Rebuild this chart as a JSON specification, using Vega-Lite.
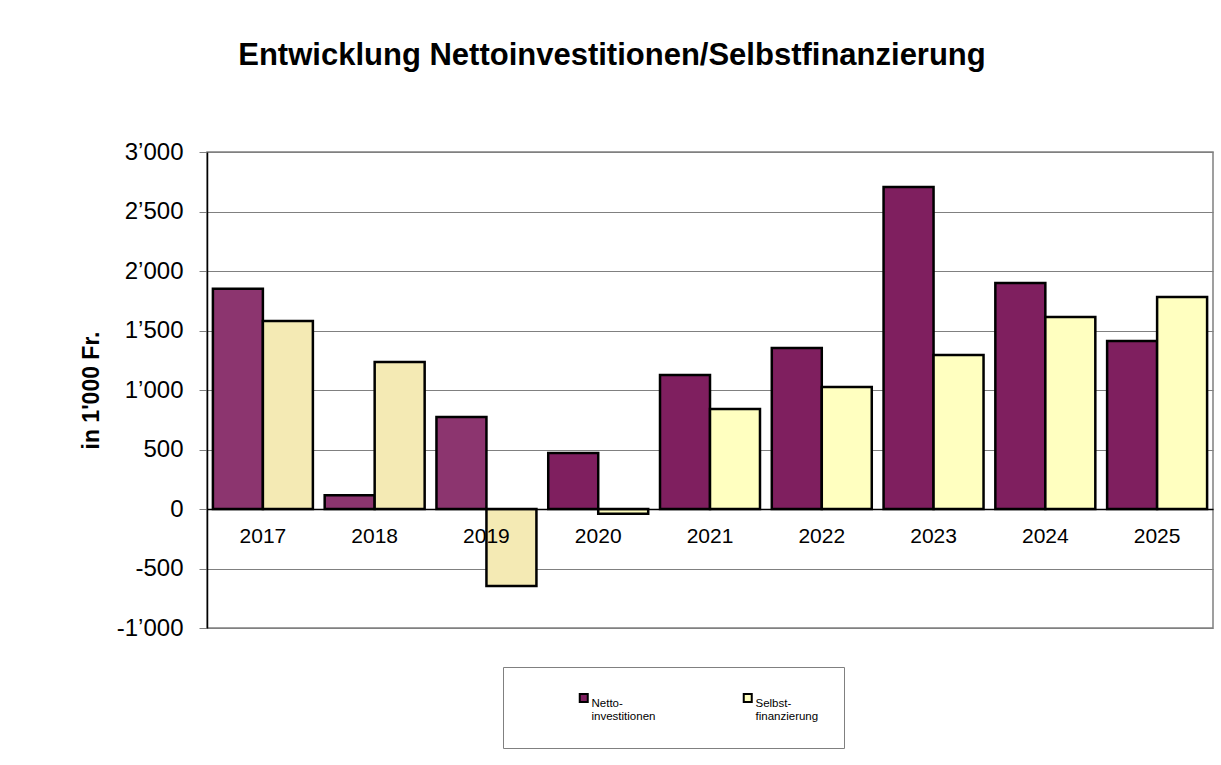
{
  "$schema": "https://vega.github.io/schema/vega-lite/v6.json",
  "width": 1006,
  "height": 476,
  "autosize": {"type": "none"},
  "padding": {"left": 207, "top": 152, "right": 8, "bottom": 137},
  "background": "white",
  "config": {
    "font": "Liberation Sans",
    "view": {"stroke": "#808080", "strokeWidth": 1.5}
  },
  "title": {
    "text": "Entwicklung Nettoinvestitionen/Selbstfinanzierung",
    "fontSize": 31,
    "fontWeight": "bold",
    "color": "black",
    "anchor": "middle",
    "frame": "group",
    "dx": -98,
    "offset": 68
  },
  "data": {
    "values": [
      {"year": "2017", "series": "Nettoinvestitionen", "value": 1850},
      {"year": "2017", "series": "Selbstfinanzierung", "value": 1580},
      {"year": "2018", "series": "Nettoinvestitionen", "value": 115},
      {"year": "2018", "series": "Selbstfinanzierung", "value": 1235},
      {"year": "2019", "series": "Nettoinvestitionen", "value": 773},
      {"year": "2019", "series": "Selbstfinanzierung", "value": -647},
      {"year": "2020", "series": "Nettoinvestitionen", "value": 470},
      {"year": "2020", "series": "Selbstfinanzierung", "value": -40},
      {"year": "2021", "series": "Nettoinvestitionen", "value": 1126},
      {"year": "2021", "series": "Selbstfinanzierung", "value": 840},
      {"year": "2022", "series": "Nettoinvestitionen", "value": 1353},
      {"year": "2022", "series": "Selbstfinanzierung", "value": 1025},
      {"year": "2023", "series": "Nettoinvestitionen", "value": 2706},
      {"year": "2023", "series": "Selbstfinanzierung", "value": 1294},
      {"year": "2024", "series": "Nettoinvestitionen", "value": 1899},
      {"year": "2024", "series": "Selbstfinanzierung", "value": 1613},
      {"year": "2025", "series": "Nettoinvestitionen", "value": 1412},
      {"year": "2025", "series": "Selbstfinanzierung", "value": 1782}
    ]
  },
  "mark": {"type": "bar", "stroke": "black", "strokeWidth": 2.5},
  "encoding": {
    "x": {
      "field": "year", "type": "nominal",
      "scale": {"paddingInner": 0, "paddingOuter": 0},
      "axis": {
        "title": null, "labelAngle": 0, "labelFontSize": 21, "labelColor": "black",
        "labelPadding": 16, "ticks": false, "domain": true, "domainColor": "black",
        "domainWidth": 1.5, "offset": -119, "grid": false, "zindex": 1
      }
    },
    "xOffset": {"field": "series", "scale": {"paddingOuter": 0.118, "paddingInner": 0}},
    "y": {
      "field": "value", "type": "quantitative",
      "scale": {"domain": [-1000, 3000], "nice": false, "zero": false},
      "axis": {
        "values": [-1000, -500, 0, 500, 1000, 1500, 2000, 2500, 3000],
        "labelExpr": "replace(replace(format(datum.value, ','), ',', '’'), '−', '-')",
        "labelFontSize": 24, "labelColor": "black", "labelPadding": 16,
        "tickSize": 8, "tickColor": "#808080",
        "domainColor": "black", "domainWidth": 1.5,
        "grid": true, "gridColor": "#808080", "gridWidth": 1.2,
        "title": "in 1'000 Fr.", "titleFontSize": 23, "titleFontWeight": "bold",
        "titleColor": "black", "titleX": -104, "titleY": 238, "titleAngle": -90,
        "titleAlign": "center", "titleBaseline": "bottom"
      }
    },
    "fill": {
      "field": "series", "type": "nominal",
      "scale": {
        "domain": ["Nettoinvestitionen", "Selbstfinanzierung"],
        "range": ["#7F1F5F", "#FFFFC0"]
      },
      "legend": {
        "orient": "none", "legendX": 296, "legendY": 515,
        "direction": "horizontal", "columns": 2, "columnPadding": 36,
        "title": null, "padding": 25, "symbolOffset": 50,
        "strokeColor": "#808080", "fillColor": "white",
        "symbolType": "square", "symbolSize": 64, "symbolStrokeColor": "black",
        "symbolStrokeWidth": 2,
        "labelFontSize": 11.5, "labelColor": "black", "labelOffset": 2,
        "labelBaseline": "top", "labelExpr": "datum.label == 'Nettoinvestitionen' ? ['Netto-', 'investitionen'] : ['Selbst-', 'finanzierung']"
      },
      "condition": [
        {"test": "datum.year <= '2019' && datum.series == 'Nettoinvestitionen'", "value": "#8C356F"},
        {"test": "datum.year <= '2019' && datum.series == 'Selbstfinanzierung'", "value": "#F4EAB4"}
      ]
    }
  }
}
